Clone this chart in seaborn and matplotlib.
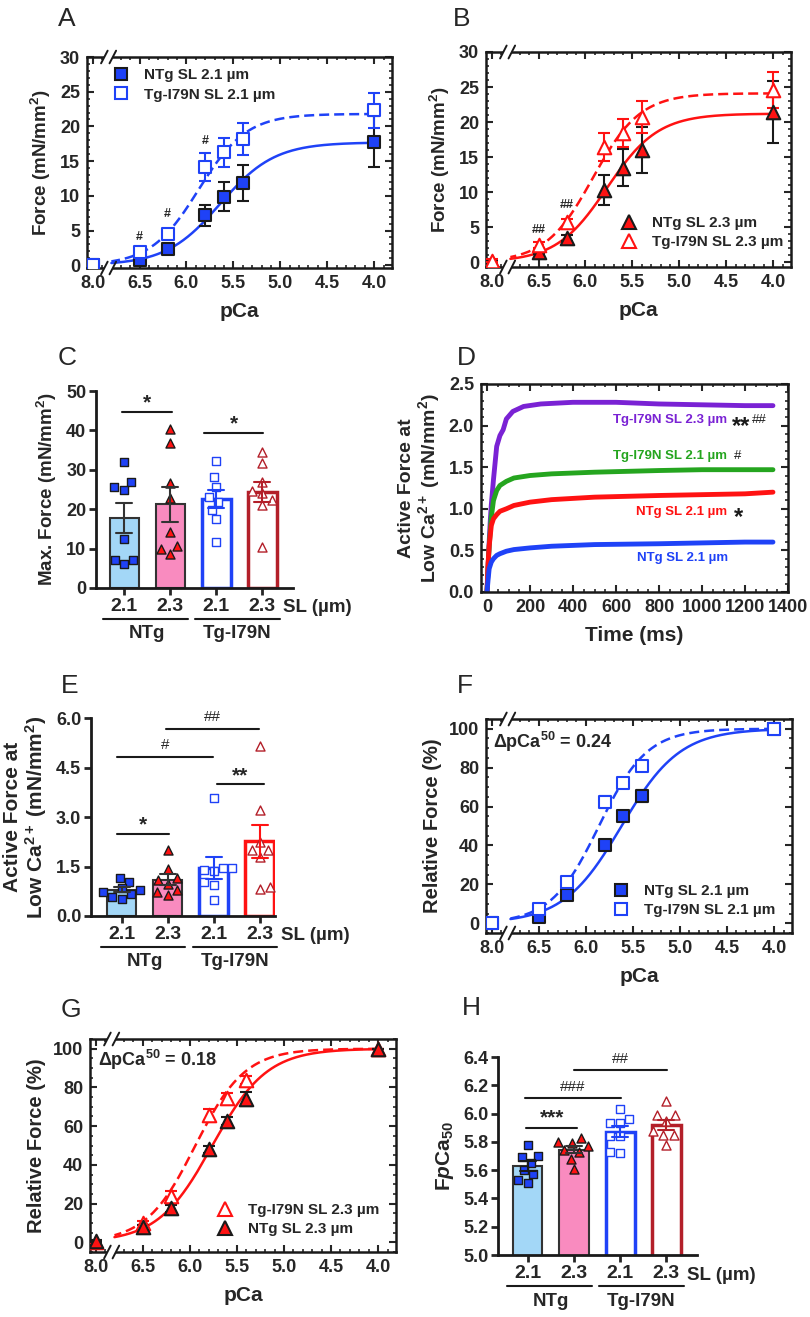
import numpy as np
import pandas as pd
import matplotlib
matplotlib.use("Agg")
import matplotlib.pyplot as plt
import matplotlib.transforms as mtransforms
from matplotlib.lines import Line2D
from matplotlib.patches import Rectangle
from matplotlib.ticker import MultipleLocator
import seaborn as sns

sns.set_theme(style="ticks")
plt.rcParams["font.family"] = ["Liberation Sans", "DejaVu Sans"]
plt.rcParams["font.weight"] = "bold"
plt.rcParams["axes.labelweight"] = "bold"
plt.rcParams["mathtext.fontset"] = "custom"
plt.rcParams["mathtext.rm"] = "Liberation Sans:bold"
plt.rcParams["mathtext.it"] = "Liberation Sans:italic:bold"
plt.rcParams["mathtext.bf"] = "Liberation Sans:bold"
plt.rcParams["mathtext.sf"] = "Liberation Sans:bold"

# ---------------- data ----------------
PCA = [8.0, 6.5, 6.2, 5.8, 5.6, 5.4, 4.0]
PCA_TICKS = [8.0, 6.5, 6.0, 5.5, 5.0, 4.5, 4.0]

A_NTG_21 = [0.0, 0.7, 2.3, 7.2, 9.9, 11.9, 17.8]
A_NTG_21_SEM = [0.2, 0.3, 0.4, 1.5, 2.1, 2.6, 3.7]
A_TG_21 = [0.1, 1.9, 4.5, 14.2, 16.3, 18.2, 22.3]
A_TG_21_SEM = [0.2, 0.4, 0.5, 2.0, 2.1, 2.3, 2.5]
A_FIT_NTG = (17.7, 5.64, 1.5)   # Fmax, pCa50, nH
A_FIT_TG = (21.8, 5.87, 1.7)

B_NTG_23 = [0.0, 1.5, 3.4, 10.3, 13.5, 16.0, 21.4]
B_NTG_23_SEM = [0.2, 0.3, 0.4, 2.1, 2.7, 3.3, 4.4]
B_TG_23 = [0.2, 2.4, 5.7, 16.4, 18.4, 20.7, 24.6]
B_TG_23_SEM = [0.2, 0.4, 0.5, 2.0, 2.0, 2.3, 2.6]
B_FIT_NTG = (21.2, 5.77, 1.6)
B_FIT_TG = (24.1, 5.92, 1.72)

F_NTG_21 = [0.0, 3.0, 14.5, 40.0, 55.0, 65.5, 100.0]
F_NTG_21_SEM = [0.5, 0.8, 1.0, 1.5, 1.5, 3.0, 0.0]
F_TG_21 = [0.0, 7.5, 21.0, 62.5, 72.0, 81.0, 100.0]
F_TG_21_SEM = [0.5, 1.0, 1.5, 3.0, 2.0, 2.0, 0.0]
F_FIT_NTG = (100.0, 5.62, 1.4)
F_FIT_TG = (100.0, 5.86, 1.7)
F_DELTA = "0.24"

G_NTG_23 = [0.5, 8.0, 17.5, 48.0, 62.5, 74.0, 100.0]
G_NTG_23_SEM = [0.5, 1.0, 2.0, 2.0, 2.0, 3.5, 0.0]
G_TG_23 = [0.0, 10.0, 24.0, 66.0, 74.5, 84.0, 100.0]
G_TG_23_SEM = [0.5, 1.0, 2.5, 3.0, 2.5, 2.0, 0.0]
G_FIT_NTG = (100.0, 5.76, 1.5)
G_FIT_TG = (100.0, 5.94, 1.65)
G_DELTA = "0.18"

GROUPS = ["NTg 2.1", "NTg 2.3", "Tg 2.1", "Tg 2.3"]
SL_LABELS = ["2.1", "2.3", "2.1", "2.3"]

C_NTG_21 = [31.9, 26.8, 25.7, 24.9, 12.4, 7.2, 7.2, 6.1]
C_NTG_23 = [40.3, 36.7, 26.6, 22.9, 14.2, 10.7, 9.9, 8.6]
C_TG_21 = [32.3, 28.1, 25.7, 23.2, 21.9, 19.8, 17.5, 11.8]
C_TG_23 = [34.6, 31.6, 26.8, 24.6, 24.0, 22.3, 21.1, 10.4]

E_NTG_21 = [1.14, 1.04, 0.84, 0.80, 0.73, 0.68, 0.58, 0.53]
E_NTG_23 = [2.01, 1.42, 1.16, 1.10, 0.98, 0.80, 0.73, 0.63]
E_TG_21 = [3.59, 1.45, 1.45, 1.40, 1.35, 1.04, 0.94, 0.48]
E_TG_23 = [5.14, 3.21, 2.23, 2.01, 2.00, 1.80, 0.89, 0.81]

H_NTG_21 = [5.78, 5.70, 5.69, 5.65, 5.60, 5.57, 5.51, 5.53]
H_NTG_23 = [5.83, 5.80, 5.79, 5.77, 5.74, 5.73, 5.68, 5.61]
H_TG_21 = [6.03, 5.96, 5.93, 5.93, 5.84, 5.84, 5.73, 5.72]
H_TG_23 = [6.09, 5.99, 5.99, 5.95, 5.88, 5.85, 5.85, 5.78]

D_T_PURPLE = [0, 5, 10, 15, 20, 30, 45, 60, 75, 90, 120, 170, 250, 400, 600, 800, 1000, 1200, 1330]
D_Y_PURPLE = [0, 0.3, 0.6, 0.85, 1.05, 1.35, 1.75, 1.88, 1.95, 2.08, 2.17, 2.23, 2.26, 2.28, 2.28, 2.26, 2.25, 2.24, 2.24]
D_T_OTHER = [0, 5, 10, 20, 30, 45, 60, 90, 125, 200, 300, 500, 800, 1000, 1200, 1330]
D_Y_GREEN = [0, 0.3, 0.55, 0.9, 1.1, 1.22, 1.28, 1.33, 1.37, 1.40, 1.42, 1.44, 1.46, 1.47, 1.47, 1.47]
D_Y_RED = [0, 0.35, 0.55, 0.8, 0.88, 0.93, 0.97, 1.0, 1.04, 1.08, 1.11, 1.14, 1.16, 1.17, 1.18, 1.2]
D_Y_BLUE = [0, 0.15, 0.28, 0.36, 0.40, 0.44, 0.46, 0.49, 0.51, 0.53, 0.55, 0.57, 0.58, 0.59, 0.6, 0.6]

# ---------------- style ----------------
BLUE = "#1f42f7"
RED = "#ff1212"
DRED = "#b31f29"
LBLUE = "#a3d7f7"
PINK = "#f98bbf"
PURPLE = "#7a22d4"
GREEN = "#25a51f"
DGRAY = "#333333"

W, H = 810, 1317
fig = plt.figure(figsize=(W / 100, H / 100), dpi=100)


def add_ax(l, t, r, b):
    return fig.add_axes([l / W, 1 - b / H, (r - l) / W, (b - t) / H])


def hill(p, fmax, p50, n):
    p = np.asarray(p, dtype=float)
    return fmax / (1 + 10 ** (n * (p - p50)))


def plot_x(p):
    p = np.asarray(p, dtype=float)
    return np.where(p > 7.0, 7.0, p)


def add_break(ax, xb=6.83):
    trans = mtransforms.blended_transform_factory(ax.transData, ax.transAxes)
    for yy in (0.0, 1.0):
        ax.add_patch(Rectangle((xb + 0.05, yy - 0.015), -0.1, 0.03, transform=trans,
                               facecolor="white", edgecolor="none", clip_on=False, zorder=6))
        for dx in (0.045, -0.045):
            ax.plot([xb + dx + 0.035, xb + dx - 0.035], [yy - 0.03, yy + 0.03], transform=trans,
                    color="k", lw=1.4, clip_on=False, zorder=7)


def pca_panel(ax, series, ylim, ymaj, ymin, ylabel, legend_kw, fs_tick=13, ylabel_fs=13.5):
    xf = np.linspace(6.8, 4.0, 300)
    for s in series:
        sns.lineplot(x=xf, y=hill(xf, *s["fit"]), ax=ax, color=s["line"], lw=1.8,
                     linestyle=s["ls"], zorder=2)
    xp = plot_x(PCA)
    for s in series:
        ax.errorbar(xp, s["y"], yerr=s["sem"], fmt="none", ecolor=s["ecolor"],
                    elinewidth=1.5, capsize=4, capthick=1.5, zorder=3)
        sns.scatterplot(x=xp, y=s["y"], ax=ax, marker=s["marker"], s=s["s"], color=s["face"],
                        edgecolor=s["edge"], linewidth=1.5, zorder=4)
    ax.set_xlim(7.06, 3.81)
    ax.set_ylim(*ylim)
    ax.set_xticks(plot_x(PCA_TICKS))
    ax.set_xticklabels([f"{v:.1f}" for v in PCA_TICKS])
    ax.xaxis.set_minor_locator(MultipleLocator(0.1))
    ax.yaxis.set_major_locator(MultipleLocator(ymaj))
    ax.yaxis.set_minor_locator(MultipleLocator(ymin))
    ax.tick_params(which="both", direction="in", top=True, right=True, width=1.5,
                   labelsize=fs_tick, pad=5)
    ax.tick_params(which="major", length=5)
    ax.tick_params(which="minor", length=2.5, width=1.2)
    for sp in ax.spines.values():
        sp.set_linewidth(1.8)
        sp.set_color("k")
    ax.set_xlabel("pCa", fontsize=15, labelpad=7)
    ax.set_ylabel(ylabel, fontsize=ylabel_fs, labelpad=5)
    handles = []
    labels = []
    for s in legend_kw["order"]:
        handles.append(Line2D([], [], ls="none", marker=s["marker"], markersize=legend_kw["ms"],
                              markerfacecolor=s["face"], markeredgecolor=s["edge"], markeredgewidth=1.5))
        labels.append(s["label"])
    ax.legend(handles, labels, loc=legend_kw["loc"], bbox_to_anchor=legend_kw["bbox"], frameon=False,
              fontsize=11, handletextpad=0.9, labelspacing=0.35, borderaxespad=0.2, handlelength=1.2)
    add_break(ax)


def bar_panel(ax, vals, styles, ylim, yticks, ytlabels, ylabel, xlim, ylabel_fs=13.5):
    df = pd.DataFrame({"grp": np.repeat(GROUPS, [len(v) for v in vals]),
                       "val": np.concatenate(vals)})
    sns.barplot(data=df, x="grp", y="val", order=GROUPS, hue="grp", hue_order=GROUPS,
                palette=[s["fill"] for s in styles], saturation=1, legend=False,
                errorbar="se", capsize=0.36, width=0.63, err_kws={"linewidth": 1.5}, ax=ax)
    for p, s in zip(ax.patches, styles):
        p.set_edgecolor(s["edge"])
        p.set_linewidth(s["lw"])
        p.set_zorder(1)
    for ln, s in zip(ax.lines, styles):
        ln.set_color(s["err"])
        ln.set_zorder(5)
    for g, s in zip(GROUPS, styles):
        sub = df[df["grp"] == g]
        sns.swarmplot(data=sub, x="grp", y="val", order=GROUPS, marker=s["marker"], size=s["size"],
                      color=s["pface"], edgecolor=s["pedge"], linewidth=1.0, ax=ax, zorder=4)
    ax.set_xlim(*xlim)
    ax.set_ylim(*ylim)
    ax.set_yticks(yticks)
    ax.set_yticklabels(ytlabels)
    ax.set_xticks(range(4))
    ax.set_xticklabels(SL_LABELS)
    ax.set_xlabel("")
    ax.set_ylabel(ylabel, fontsize=ylabel_fs, labelpad=5)
    sns.despine(ax=ax)
    for sp in ("left", "bottom"):
        ax.spines[sp].set_linewidth(2)
        ax.spines[sp].set_color("k")
    ax.tick_params(axis="y", direction="out", length=5, width=2, labelsize=13, pad=2)
    ax.tick_params(axis="x", direction="out", length=5, width=2, labelsize=14, pad=2)
    # SL label and group lines
    ax.annotate("SL (µm)", xy=(3.46, 0), xycoords=("data", "axes fraction"), xytext=(0, -20),
                textcoords="offset pixels", ha="left", va="center", fontsize=13.5)
    trans = mtransforms.offset_copy(
        mtransforms.blended_transform_factory(ax.transData, ax.transAxes), fig=fig, y=-31, units="dots")
    for x0, x1 in ((-0.45, 1.38), (1.55, 3.38)):
        ax.plot([x0, x1], [0, 0], transform=trans, color="k", lw=1.5, clip_on=False)
    for xc, lab in ((0.5, "NTg"), (2.46, "Tg-I79N")):
        ax.annotate(lab, xy=(xc, 0), xycoords=("data", "axes fraction"), xytext=(0, -46),
                    textcoords="offset pixels", ha="center", va="center", fontsize=13.5)


def sig(ax, x0, x1, yl, yt, txt, fs=15, weight="bold"):
    ax.plot([x0, x1], [yl, yl], color="k", lw=1.5, clip_on=False, zorder=6)
    ax.text((x0 + x1) / 2, yt, txt, ha="center", va="baseline", fontsize=fs, fontweight=weight,
            clip_on=False)


# ---------------- Panel A ----------------
axA = add_ax(87, 57, 392, 268)
ntgA = dict(y=A_NTG_21, sem=A_NTG_21_SEM, fit=A_FIT_NTG, line=BLUE, ls="-", ecolor="k",
            marker="s", s=75, face=BLUE, edge="k", label="NTg SL 2.1 µm")
tgA = dict(y=A_TG_21, sem=A_TG_21_SEM, fit=A_FIT_TG, line=BLUE, ls=(0, (4, 2)), ecolor=BLUE,
           marker="s", s=75, face="white", edge=BLUE, label="Tg-I79N SL 2.1 µm")
pca_panel(axA, [ntgA, tgA], (-0.4, 30), 5, 1, "Force (mN/mm$^2$)",
          dict(order=[ntgA, tgA], ms=9, loc="upper left", bbox=(0.05, 0.99)))
for xx, yy, t in ((6.5, 3.6, "#"), (6.2, 6.9, "#"), (5.8, 17.4, "#")):
    axA.text(xx, yy, t, ha="center", va="baseline", fontsize=9)

# ---------------- Panel B ----------------
axB = add_ax(486, 52, 791, 267)
ntgB = dict(y=B_NTG_23, sem=B_NTG_23_SEM, fit=B_FIT_NTG, line=RED, ls="-", ecolor="k",
            marker="^", s=95, face=RED, edge="k", label="NTg SL 2.3 µm")
tgB = dict(y=B_TG_23, sem=B_TG_23_SEM, fit=B_FIT_TG, line=RED, ls=(0, (4, 2)), ecolor=RED,
           marker="^", s=95, face="white", edge=RED, label="Tg-I79N SL 2.3 µm")
pca_panel(axB, [ntgB, tgB], (-0.7, 30), 5, 1, "Force (mN/mm$^2$)",
          dict(order=[ntgB, tgB], ms=10, loc="lower left", bbox=(0.41, 0.04)))
for xx, yy, t in ((6.5, 4.2, "##"), (6.2, 7.7, "##")):
    axB.text(xx, yy, t, ha="center", va="baseline", fontsize=9)

# ---------------- Panel C ----------------
axC = add_ax(96, 391, 293, 588)
styC = [
    dict(fill=LBLUE, edge=DGRAY, lw=1.5, err=DGRAY, marker="s", size=6, pface=BLUE, pedge="k"),
    dict(fill=PINK, edge=DGRAY, lw=1.5, err=DGRAY, marker="^", size=6.5, pface=RED, pedge="k"),
    dict(fill="white", edge=BLUE, lw=2.5, err=BLUE, marker="s", size=6, pface="white", pedge=BLUE),
    dict(fill="white", edge=DRED, lw=2.5, err=DRED, marker="^", size=6.5, pface="white", pedge=DRED),
]
bar_panel(axC, [C_NTG_21, C_NTG_23, C_TG_21, C_TG_23], styC, (0, 50), [0, 10, 20, 30, 40, 50],
          ["0", "10", "20", "30", "40", "50"], "Max. Force (mN/mm$^2$)", (-0.61, 3.67))
sig(axC, -0.05, 1.04, 44.7, 45.6, "*")
sig(axC, 1.74, 3.02, 39.3, 40.2, "*")

# ---------------- Panel D ----------------
axD = add_ax(481, 384, 788, 592)
for t, y, c in ((D_T_PURPLE, D_Y_PURPLE, PURPLE), (D_T_OTHER, D_Y_GREEN, GREEN),
                (D_T_OTHER, D_Y_RED, RED), (D_T_OTHER, D_Y_BLUE, BLUE)):
    sns.lineplot(x=t, y=y, ax=axD, color=c, lw=3.5)
axD.set_xlim(-28, 1400)
axD.set_ylim(0, 2.5)
axD.xaxis.set_major_locator(MultipleLocator(200))
axD.xaxis.set_minor_locator(MultipleLocator(50))
axD.yaxis.set_major_locator(MultipleLocator(0.5))
axD.yaxis.set_minor_locator(MultipleLocator(0.1))
axD.yaxis.set_major_formatter(matplotlib.ticker.FormatStrFormatter("%.1f"))
axD.tick_params(which="both", direction="in", top=True, right=True, width=1.5, labelsize=13, pad=5)
axD.tick_params(which="major", length=5)
axD.tick_params(which="minor", length=2.5, width=1.2)
for sp in axD.spines.values():
    sp.set_linewidth(1.8)
    sp.set_color("k")
axD.set_xlabel("Time (ms)", fontsize=15, labelpad=7)
axD.set_ylabel("Active Force at\nLow Ca$^{2+}$ (mN/mm$^2$)", fontsize=14, labelpad=5, linespacing=1.05)
axD.text(1115, 2.07, "Tg-I79N SL 2.3 µm", color=PURPLE, ha="right", va="center", fontsize=9.5)
axD.text(1138, 1.99, "**", color="k", ha="left", va="center", fontsize=17)
axD.text(1232, 2.07, "##", color="k", ha="left", va="center", fontsize=9.5, fontweight="normal")
axD.text(1115, 1.64, "Tg-I79N SL 2.1 µm", color=GREEN, ha="right", va="center", fontsize=9.5)
axD.text(1168, 1.64, "#", color="k", ha="center", va="center", fontsize=9.5, fontweight="normal")
axD.text(1115, 0.965, "NTg SL 2.1 µm", color=RED, ha="right", va="center", fontsize=9.5)
axD.text(1168, 0.89, "*", color="k", ha="center", va="center", fontsize=17)
axD.text(1120, 0.41, "NTg SL 2.1 µm", color=BLUE, ha="right", va="center", fontsize=9.5)

# ---------------- Panel E ----------------
axE = add_ax(91, 718, 275, 916)
styE = [
    dict(fill=LBLUE, edge=DGRAY, lw=1.5, err=DGRAY, marker="s", size=6, pface=BLUE, pedge="k"),
    dict(fill=PINK, edge=DGRAY, lw=1.5, err=DGRAY, marker="^", size=6.5, pface=RED, pedge="k"),
    dict(fill="white", edge=BLUE, lw=2.5, err=BLUE, marker="s", size=6, pface="white", pedge=BLUE),
    dict(fill="white", edge=RED, lw=2.5, err=RED, marker="^", size=6.5, pface="white", pedge=DRED),
]
bar_panel(axE, [E_NTG_21, E_NTG_23, E_TG_21, E_TG_23], styE, (0, 6), [0, 1.5, 3, 4.5, 6],
          ["0.0", "1.5", "3.0", "4.5", "6.0"], "Active Force at\nLow Ca$^{2+}$ (mN/mm$^2$)",
          (-0.67, 3.33), ylabel_fs=15)
axE.yaxis.label.set_linespacing(1.05)
sig(axE, 0.96, 2.98, 5.67, 5.90, "##", fs=11, weight="normal")
sig(axE, -0.1, 1.98, 4.82, 5.06, "#", fs=11, weight="normal")
sig(axE, 2.07, 3.09, 4.0, 4.08, "**")
sig(axE, -0.1, 1.02, 2.48, 2.58, "*")

# ---------------- Panel F ----------------
axF = add_ax(486, 719, 792, 933)
ntgF = dict(y=F_NTG_21, sem=F_NTG_21_SEM, fit=F_FIT_NTG, line=BLUE, ls="-", ecolor="k",
            marker="s", s=70, face=BLUE, edge="k", label="NTg SL 2.1 µm")
tgF = dict(y=F_TG_21, sem=F_TG_21_SEM, fit=F_FIT_TG, line=BLUE, ls=(0, (4, 2)), ecolor=BLUE,
           marker="s", s=70, face="white", edge=BLUE, label="Tg-I79N SL 2.1 µm")
pca_panel(axF, [ntgF, tgF], (-5, 105), 20, 5, "Relative Force (%)",
          dict(order=[ntgF, tgF], ms=9, loc="lower left", bbox=(0.38, 0.03)), ylabel_fs=14.5)
axF.text(6.99, 93, "ΔpCa$^{50}$ = " + F_DELTA, ha="left", va="center", fontsize=13)

# ---------------- Panel G ----------------
axG = add_ax(90, 1039, 396, 1252)
ntgG = dict(y=G_NTG_23, sem=G_NTG_23_SEM, fit=G_FIT_NTG, line=RED, ls="-", ecolor="k",
            marker="^", s=95, face=RED, edge="k", label="NTg SL 2.3 µm")
tgG = dict(y=G_TG_23, sem=G_TG_23_SEM, fit=G_FIT_TG, line=RED, ls=(0, (4, 2)), ecolor=RED,
           marker="^", s=95, face="white", edge=RED, label="Tg-I79N SL 2.3 µm")
pca_panel(axG, [tgG, ntgG], (-5, 105), 20, 5, "Relative Force (%)",
          dict(order=[tgG, ntgG], ms=10, loc="lower left", bbox=(0.38, 0.03)), ylabel_fs=14.5)
axG.text(6.97, 94, "ΔpCa$^{50}$ = " + G_DELTA, ha="left", va="center", fontsize=13)

# ---------------- Panel H ----------------
axH = add_ax(498, 1057, 697, 1255)
styH = [
    dict(fill=LBLUE, edge=DGRAY, lw=1.5, err="k", marker="s", size=6, pface=BLUE, pedge="k"),
    dict(fill=PINK, edge=DGRAY, lw=1.5, err=DGRAY, marker="^", size=6.5, pface=RED, pedge="k"),
    dict(fill="white", edge=BLUE, lw=2.5, err=BLUE, marker="s", size=6, pface="white", pedge=BLUE),
    dict(fill="white", edge=DRED, lw=2.5, err=DRED, marker="^", size=6.5, pface="white", pedge=DRED),
]
bar_panel(axH, [H_NTG_21, H_NTG_23, H_TG_21, H_TG_23], styH, (5.0, 6.4),
          [5.0, 5.2, 5.4, 5.6, 5.8, 6.0, 6.2, 6.4],
          ["5.0", "5.2", "5.4", "5.6", "5.8", "6.0", "6.2", "6.4"],
          r"F$\it{p}$Ca$_{50}$", (-0.65, 3.67), ylabel_fs=15)
sig(axH, 1.0, 3.02, 6.31, 6.36, "##", fs=11, weight="normal")
sig(axH, -0.07, 2.02, 6.11, 6.16, "###", fs=11, weight="normal")
sig(axH, -0.04, 1.07, 5.90, 5.93, "***")

# ---------------- panel letters ----------------
for lab, x, y in (("A", 58, 26), ("B", 453, 26), ("C", 58, 365), ("D", 457, 365),
                  ("E", 61, 693), ("F", 457, 693), ("G", 61, 1017), ("H", 462, 1015)):
    fig.text(x / W, 1 - y / H, lab, fontsize=19, fontweight="normal", ha="left", va="baseline")

fig.savefig("out.png", dpi=100)
